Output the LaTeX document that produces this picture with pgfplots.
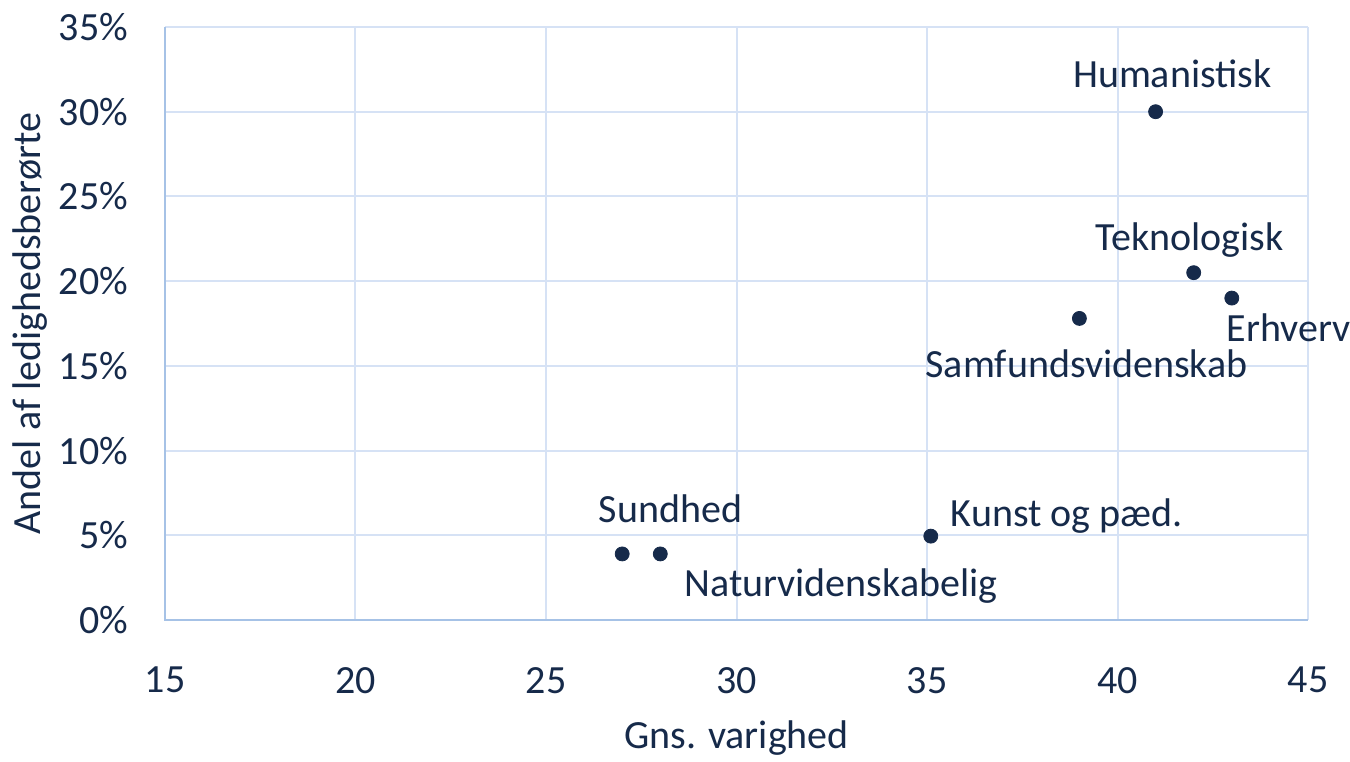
\documentclass[border=0pt]{standalone}
\usepackage{fontspec}
\setmainfont{Carlito}
\usepackage{pgfplots}
\pgfplotsset{compat=1.18}
\definecolor{txt}{RGB}{22,42,74}
\definecolor{gridc}{RGB}{214,226,245}
\definecolor{axc}{RGB}{166,194,230}
\begin{document}
\begin{tikzpicture}
\begin{axis}[
  name=ax,
  scale only axis,
  width=571.5pt, height=296.5pt,
  xmin=15, xmax=45, ymin=0, ymax=35,
  xtick={15,20,...,45}, ytick={0,5,...,35},
  yticklabel={\pgfmathprintnumber{\tick}\%},
  /pgf/number format/assume math mode=true,
  grid=major,
  major grid style={gridc, line width=1pt},
  axis line style={draw=none},
  tick style={draw=none},
  every tick label/.append style={font=\fontsize{20}{24}\selectfont, text=txt},
  xticklabel style={yshift=-20pt},
  yticklabel style={xshift=-15pt},
  xlabel={Gns. varighed},
  ylabel={Andel af ledighedsberørte},
  label style={font=\fontsize{20}{24}\selectfont, text=txt},
  xlabel style={yshift=-7pt},
  ylabel style={yshift=-1pt},
  clip=false,
]
\draw[axc, line width=1.2pt] (axis cs:15,35) -- (axis cs:15,0) -- (axis cs:45,0);
\addplot[only marks, mark=*, mark size=3.5pt, color=txt] coordinates {
  (41,30) (42,20.5) (43,19) (39,17.8) (35.1,4.95) (27,3.9) (28,3.9)
};
\begin{scope}[every node/.style={anchor=base, text=txt, font=\fontsize{20}{24}\selectfont, inner sep=0pt}]
\node at (axis cs:41.44,31.4) {Humanistisk};
\node at (axis cs:41.89,21.78) {Teknologisk};
\node at (axis cs:44.49,16.41) {Erhverv};
\node at (axis cs:39.19,14.34) {Samfundsvidenskab};
\node at (axis cs:38.67,5.49) {Kunst og pæd.};
\node at (axis cs:28.27,5.73) {Sundhed};
\node at (axis cs:32.74,1.36) {Naturvidenskabelig};
\end{scope}
\end{axis}
\pgfresetboundingbox
\path ([xshift=-82.5pt,yshift=-70.5pt]ax.south west) rectangle ([xshift=21pt,yshift=13.5pt]ax.north east);
\end{tikzpicture}
\end{document}
